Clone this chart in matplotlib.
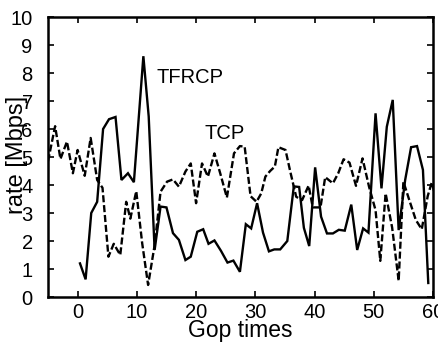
import numpy as np
import matplotlib
matplotlib.use("Agg")
import matplotlib.pyplot as plt

plt.rcParams['font.family'] = ['Liberation Sans', 'DejaVu Sans']

# TFRCP (solid)
tfrcp_x = [0.4, 1.35, 2.3, 3.3, 4.3, 5.3, 6.4, 7.4, 8.5, 9.5, 11.1, 12.0, 13.0, 14.0, 15.0,
           16.1, 17.1, 18.2, 19.1, 20.2, 21.2, 22.1, 23.1, 24.2, 25.3, 26.3, 27.4, 28.4, 29.3,
           30.3, 31.3, 32.3, 33.2, 34.2, 35.4, 36.5, 37.4, 38.2, 39.1, 40.1, 41.1, 42.1, 43.1,
           44.1, 45.1, 46.2, 47.2, 48.2, 49.1, 50.3, 51.3, 52.2, 53.2, 54.2, 55.3, 56.3, 57.3,
           58.3, 59.2]
tfrcp_y = [1.2, 0.63, 3.0, 3.4, 6.0, 6.35, 6.43, 4.18, 4.42, 4.1, 8.6, 6.45, 1.68, 3.23, 3.2,
           2.28, 2.04, 1.32, 1.44, 2.33, 2.42, 1.9, 2.02, 1.65, 1.23, 1.3, 0.9, 2.6, 2.45,
           3.35, 2.3, 1.63, 1.7, 1.7, 2.0, 3.95, 3.93, 2.47, 1.82, 4.63, 2.87, 2.27, 2.27,
           2.4, 2.37, 3.3, 1.68, 2.45, 2.3, 6.56, 3.88, 6.08, 7.04, 2.39, 4.18, 5.35, 5.39,
           4.54, 0.5]

# TCP (dashed)
tcp_x = [-5, -3.8, -2.9, -1.8, -0.8, 0.0, 1.2, 2.2, 3.3, 4.2, 5.2, 6.1, 7.2, 8.2, 8.9, 9.9,
         10.9, 11.9, 13.0, 14.0, 15.1, 16.1, 17.1, 18.2, 19.1, 20.0, 21.0, 22.0, 23.1, 24.1,
         25.2, 26.4, 27.4, 28.2, 29.2, 30.2, 31.0, 31.7, 32.5, 33.3, 33.9, 35.1, 35.9, 36.9,
         37.9, 39.0, 39.7, 41.0, 41.8, 43.1, 44.0, 44.9, 45.9, 47.0, 48.1, 49.2, 50.3, 51.1,
         52.0, 53.1, 54.2, 55.0, 56.0, 57.1, 58.1, 59.1, 59.8, 60.5]
tcp_y = [4.85, 6.1, 4.93, 5.55, 4.42, 5.25, 4.33, 5.68, 4.18, 3.9, 1.44, 1.9, 1.5, 3.4, 2.8, 3.78,
         1.92, 0.43, 1.85, 3.76, 4.12, 4.2, 3.94, 4.48, 4.77, 3.35, 4.77, 4.3, 5.13, 4.4,
         3.55, 5.13, 5.39, 5.37, 3.6, 3.4, 3.7, 4.3, 4.5, 4.66, 5.35, 5.25, 4.48, 3.58,
         3.46, 3.98, 3.2, 3.2, 4.28, 4.06, 4.42, 4.92, 4.8, 3.97, 4.95, 3.94, 3.1, 1.29,
         3.7, 2.48, 0.58, 4.12, 3.46, 2.75, 2.42, 3.6, 4.1, 3.5]

x_ticks = [0, 10, 20, 30, 40, 50, 60]
y_ticks = list(range(0, 11))

fig = plt.figure(figsize=(4.38, 3.43), dpi=100)
ax = fig.add_axes([0.1096, 0.1341, 0.879, 0.8163])

ax.plot(tfrcp_x, tfrcp_y, color='black', linewidth=1.7, solid_joinstyle='miter')
ax.plot(tcp_x, tcp_y, color='black', linewidth=1.7, linestyle=(0, (3.0, 1.2)))

ax.set_xlim(-5, 60)
ax.set_ylim(0, 10)
ax.set_xticks(x_ticks)
ax.set_yticks(y_ticks)
ax.tick_params(direction='in', length=4, width=1.2, labelsize=14.5,
               top=True, right=True, labeltop=False, labelright=False)
ax.tick_params(axis='y', pad=11)
ax.tick_params(axis='x', pad=4)
for sp in ax.spines.values():
    sp.set_linewidth(1.8)

ax.text(13.3, 7.64, 'TFRCP', fontsize=14.5, ha='left', va='baseline')
ax.text(21.4, 5.64, 'TCP', fontsize=14.5, ha='left', va='baseline')

ax.set_xlabel('Gop times', fontsize=16.5, labelpad=-2)
fig.text(17 / 438, 1 - 155 / 343, 'rate [Mbps]', rotation=90, fontsize=17,
         ha='center', va='center')

fig.savefig('out.png', dpi=100)
